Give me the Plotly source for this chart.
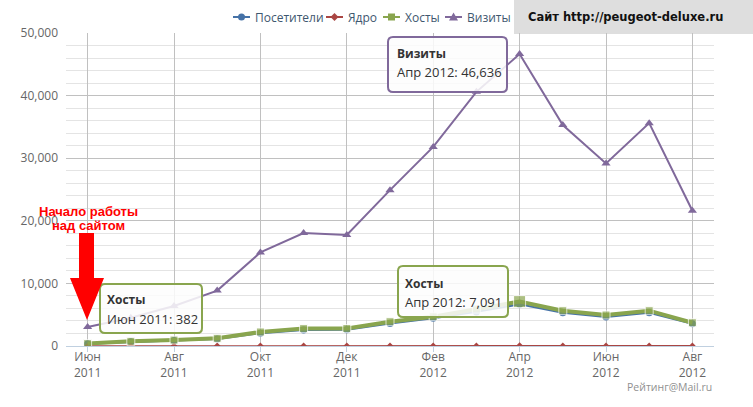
import plotly.graph_objects as go

# ---- data ----
months = ["Июн", "Июл", "Авг", "Сен", "Окт", "Ноя", "Дек", "Янв", "Фев", "Мар", "Апр", "Май", "Июн", "Июл", "Авг"]
years = ["2011"] * 7 + ["2012"] * 8
visitors = [350, 660, 870, 1100, 2050, 2550, 2600, 3600, 4450, 5450, 6650, 5300, 4650, 5300, 3550]
core = [10, 15, 20, 25, 30, 35, 40, 45, 50, 55, 60, 55, 50, 52, 45]
hosts = [382, 750, 950, 1230, 2240, 2780, 2800, 3880, 4680, 5900, 7091, 5640, 4950, 5640, 3720]
visits = [3040, 4500, 6400, 8850, 14950, 18050, 17750, 24900, 31800, 40600, 46636, 35300, 29150, 35600, 21600]
series_names = ["Посетители", "Ядро", "Хосты", "Визиты"]
colors = ["#4572A7", "#AA4643", "#89A54E", "#80699B"]

x = list(range(len(months)))
tick_idx = x[::2]
tick_text = [f"{months[i]}<br>{years[i]}" for i in tick_idx]

# ---- pixel helpers (plot area) ----
L, R, T, B = 66, 714, 33, 346
W, H = R - L, B - T
FIG_W, FIG_H = 753, 407


def px(v):
    return (v - L) / W


def py(v):
    return (B - v) / H


fig = go.Figure()
fig.add_trace(go.Scatter(x=x, y=visitors, name=series_names[0], mode="lines+markers",
                         line=dict(color=colors[0], width=2),
                         marker=dict(symbol="circle", size=7, color=colors[0])))
fig.add_trace(go.Scatter(x=x, y=core, name=series_names[1], mode="lines+markers",
                         line=dict(color=colors[1], width=1.5),
                         marker=dict(symbol="diamond", size=5, color=colors[1])))
host_sizes = [8] * len(x)
host_sizes[10] = 12
fig.add_trace(go.Scatter(x=x, y=hosts, name=series_names[2], mode="lines+markers",
                         line=dict(color=colors[2], width=4),
                         marker=dict(symbol="square", size=host_sizes, color=colors[2])))
fig.add_trace(go.Scatter(x=x, y=visits, name=series_names[3], mode="lines+markers",
                         line=dict(color=colors[3], width=2),
                         marker=dict(symbol="triangle-up", size=8, color=colors[3])))

shapes = []
annotations = []

# ---- custom legend ----
leg_y = 17
leg_items = [(233, 253), (326, 346), (383, 403), (445, 465)]
sym = ["circle", "diamond", "square", "triangle"]
for (sx, tx), name, col, s in zip(leg_items, series_names, colors, sym):
    shapes.append(dict(type="line", xref="paper", yref="paper", x0=px(sx), x1=px(sx + 17),
                       y0=py(leg_y), y1=py(leg_y), line=dict(color=col, width=2)))
    cx = sx + 8.5
    if s == "circle":
        shapes.append(dict(type="circle", xref="paper", yref="paper", x0=px(cx - 3.5), x1=px(cx + 3.5),
                           y0=py(leg_y - 3.5), y1=py(leg_y + 3.5), fillcolor=col, line=dict(width=0)))
    elif s == "diamond":
        p = [(cx, leg_y - 4), (cx + 4, leg_y), (cx, leg_y + 4), (cx - 4, leg_y)]
        shapes.append(dict(type="path", xref="paper", yref="paper",
                           path="M" + " L".join(f"{px(a)},{py(b)}" for a, b in p) + " Z",
                           fillcolor=col, line=dict(width=0)))
    elif s == "square":
        shapes.append(dict(type="rect", xref="paper", yref="paper", x0=px(cx - 3.5), x1=px(cx + 3.5),
                           y0=py(leg_y - 3.5), y1=py(leg_y + 3.5), fillcolor=col, line=dict(width=0)))
    else:
        p = [(cx, leg_y - 4.5), (cx + 4.5, leg_y + 3.5), (cx - 4.5, leg_y + 3.5)]
        shapes.append(dict(type="path", xref="paper", yref="paper",
                           path="M" + " L".join(f"{px(a)},{py(b)}" for a, b in p) + " Z",
                           fillcolor=col, line=dict(width=0)))
    annotations.append(dict(xref="paper", yref="paper", x=px(tx), y=py(leg_y), xanchor="left", yanchor="middle",
                            text=name, showarrow=False,
                            font=dict(family="Open Sans", size=12, color="#3E576F")))

# ---- gray site box ----
shapes.append(dict(type="rect", xref="paper", yref="paper", x0=px(514), x1=px(FIG_W + 5),
                   y0=py(34), y1=py(-5), fillcolor="#DEDEDE", line=dict(width=0), layer="below"))
annotations.append(dict(xref="paper", yref="paper", x=px(526), y=py(17), xanchor="left", yanchor="middle",
                        text="<b>Сайт http://peugeot-deluxe.ru</b>", showarrow=False,
                        font=dict(family="DejaVu Sans", size=11.5, color="#111111")))


# ---- tooltips ----
def rrect(x0, y0, x1, y1, r=5):
    pts = (f"M{px(x0 + r)},{py(y0)} L{px(x1 - r)},{py(y0)} Q{px(x1)},{py(y0)} {px(x1)},{py(y0 + r)} "
           f"L{px(x1)},{py(y1 - r)} Q{px(x1)},{py(y1)} {px(x1 - r)},{py(y1)} "
           f"L{px(x0 + r)},{py(y1)} Q{px(x0)},{py(y1)} {px(x0)},{py(y1 - r)} "
           f"L{px(x0)},{py(y0 + r)} Q{px(x0)},{py(y0)} {px(x0 + r)},{py(y0)} Z")
    return pts


def tooltip(box, col, title, body, tx, ty1, ty2):
    x0, y0, x1, y1 = box
    shapes.append(dict(type="path", xref="paper", yref="paper", path=rrect(x0 + 1, y0 + 1, x1 + 1, y1 + 1),
                       fillcolor="rgba(0,0,0,0.06)", line=dict(width=0), layer="above"))
    shapes.append(dict(type="path", xref="paper", yref="paper", path=rrect(x0, y0, x1, y1),
                       fillcolor="rgba(255,255,255,0.85)", line=dict(color=col, width=2), layer="above"))
    annotations.append(dict(xref="paper", yref="paper", x=px(tx), y=py(ty1), xanchor="left", yanchor="middle",
                            text=f"<b>{title}</b>", showarrow=False,
                            font=dict(family="Open Sans", size=12, color="#333333")))
    annotations.append(dict(xref="paper", yref="paper", x=px(tx), y=py(ty2), xanchor="left", yanchor="middle",
                            text=body, showarrow=False,
                            font=dict(family="Open Sans", size=13, color="#333333")))


tooltip((388, 37, 507, 92), colors[3], series_names[3], f"{months[10]} {years[10]}: {visits[10]:,}", 395, 53, 72)
tooltip((100, 284, 202, 333), colors[2], series_names[2], f"{months[0]} {years[0]}: {hosts[0]:,}", 105, 299, 319)
tooltip((398, 266, 508, 317), colors[2], series_names[2], f"{months[10]} {years[10]}: {hosts[10]:,}", 403, 283, 302)

# ---- red arrow and caption ----
arrow = [(79, 233), (94, 233), (94, 278), (104, 278), (87, 320), (70, 278), (79, 278)]
shapes.append(dict(type="path", xref="paper", yref="paper",
                   path="M" + " L".join(f"{px(a)},{py(b)}" for a, b in arrow) + " Z",
                   fillcolor="#FF0000", line=dict(width=0), layer="above"))
for txt, yy in [("Начало работы", 211), ("над сайтом", 225)]:
    annotations.append(dict(xref="paper", yref="paper", x=px(88), y=py(yy), xanchor="center", yanchor="middle",
                            text=f"<b>{txt}</b>", showarrow=False,
                            font=dict(family="Liberation Sans", size=13, color="#FF0000")))

annotations.append(dict(xref="paper", yref="paper", x=px(714), y=py(387), xanchor="right", yanchor="middle",
                        text="Рейтинг@Mail.ru", showarrow=False,
                        font=dict(family="Open Sans", size=10.5, color="#909090")))

fig.update_layout(
    width=FIG_W, height=FIG_H,
    margin=dict(l=L, r=FIG_W - R, t=T, b=FIG_H - B, pad=0),
    paper_bgcolor="white", plot_bgcolor="white",
    showlegend=False,
    shapes=shapes, annotations=annotations,
    font=dict(family="Open Sans", size=12, color="#666666"),
)
fig.update_xaxes(range=[-0.5, len(x) - 0.5], tickvals=tick_idx, ticktext=tick_text,
                 showgrid=True, gridcolor="#C0C0C0", gridwidth=1, zeroline=False,
                 showline=True, linecolor="#C0D0E0", ticks="outside", ticklen=5, tickcolor="#C0D0E0",
                 ticklabelstandoff=-5,
                 tickfont=dict(size=12, color="#666666"))
fig.update_yaxes(range=[0, 50000], dtick=10000, tickformat=",", showgrid=True, gridcolor="#C0C0C0",
                 zeroline=False, ticks="", ticklabelstandoff=7, tickfont=dict(size=12, color="#666666"),
                 minor=dict(dtick=2000, showgrid=True, gridcolor="#E4E4E4", gridwidth=1))

fig.write_html("out.html")
